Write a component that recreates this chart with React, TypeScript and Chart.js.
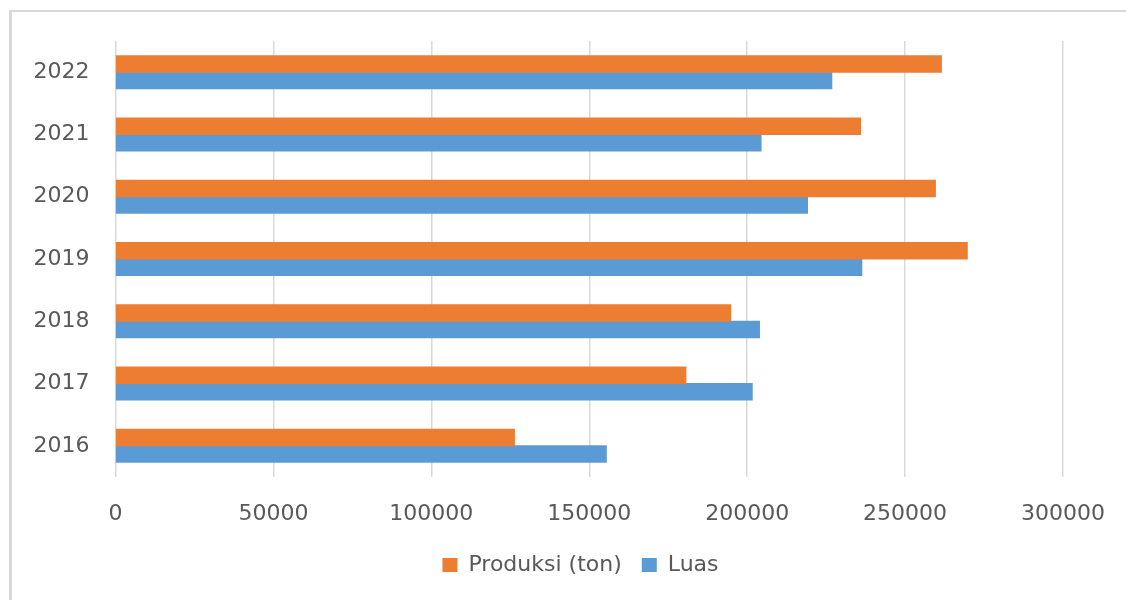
import React, { useEffect, useRef } from "react";
import { Chart, registerables } from "chart.js";

Chart.register(...registerables);

const years = ["2022", "2021", "2020", "2019", "2018", "2017", "2016"];
const produksi = [261500, 235900, 259600, 269700, 194800, 180600, 126300];
const luas = [226800, 204400, 219100, 236300, 203900, 201600, 155400];
const xTicks = [0, 50000, 100000, 150000, 200000, 250000, 300000];

const ORANGE = "#ED7D31";
const BLUE = "#5B9BD5";
const TEXT = "#595959";
const GRID = "#d9d9d9";
const FONT = "'DejaVu Sans', 'Open Sans', sans-serif";

// The bottom legend is centred on the framed panel rather than on the plot.
const legendShift = {
  id: "legendShift",
  afterLayout(chart: any) {
    const lg = chart.legend;
    if (lg) {
      lg.left += 49;
      lg.right += 49;
    }
  },
};

export default function App() {
  const canvasRef = useRef<HTMLCanvasElement | null>(null);

  useEffect(() => {
    const canvas = canvasRef.current;
    if (!canvas) return;
    const chart = new Chart(canvas, {
      type: "bar",
      data: {
        labels: years,
        datasets: [
          {
            label: "Produksi (ton)",
            data: produksi,
            backgroundColor: ORANGE,
            barPercentage: 1,
            categoryPercentage: 0.53,
            inflateAmount: 0.5,
          },
          {
            label: "Luas",
            data: luas,
            backgroundColor: BLUE,
            barPercentage: 1,
            categoryPercentage: 0.53,
            inflateAmount: 0.5,
          },
        ],
      },
      plugins: [legendShift],
      options: {
        indexAxis: "y",
        responsive: false,
        animation: false,
        layout: { padding: { left: 0, right: 63, top: 41, bottom: 14 } },
        plugins: {
          tooltip: { enabled: false },
          legend: {
            position: "bottom",
            labels: {
              color: TEXT,
              font: { family: FONT, size: 22 },
              boxWidth: 15,
              boxHeight: 14,
              padding: 20,
            },
          },
        },
        scales: {
          x: {
            min: 0,
            max: 300000,
            afterBuildTicks: (scale: any) => {
              scale.ticks = xTicks.map((v) => ({ value: v }));
            },
            afterFit: (scale: any) => {
              scale.height = 57;
              scale.paddingLeft = 0;
              scale.paddingRight = 0;
            },
            ticks: {
              color: TEXT,
              font: { family: FONT, size: 22 },
              padding: 24,
              maxRotation: 0,
              callback: (v: any) => String(v),
            },
            grid: { color: GRID, lineWidth: 1.5, drawTicks: false },
            border: { display: false },
          },
          y: {
            afterFit: (scale: any) => {
              scale.width = 115.5;
            },
            ticks: {
              color: TEXT,
              font: { family: FONT, size: 22 },
              padding: 26,
            },
            grid: { display: false, drawTicks: false },
            border: { display: false },
          },
        },
      },
    });
    return () => chart.destroy();
  }, []);

  return (
    <div style={{ position: "absolute", left: 0, top: 0, width: 1126, height: 600, background: "#fff", overflow: "hidden" }}>
      <div
        style={{
          position: "absolute",
          left: 9,
          top: 10,
          width: 1200,
          height: 700,
          borderTop: "2px solid #d9d9d9",
          borderLeft: "3px solid #d9d9d9",
        }}
      />
      <canvas ref={canvasRef} width={1126} height={600} style={{ position: "absolute", left: 0, top: 0 }} />
    </div>
  );
}
